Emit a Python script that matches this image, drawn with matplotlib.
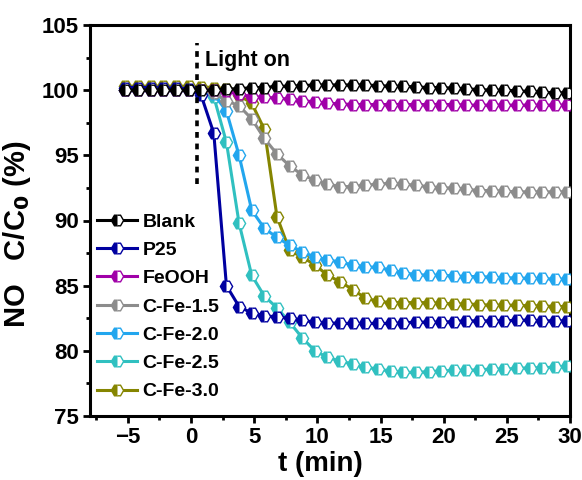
import numpy as np
import matplotlib
matplotlib.use("Agg")
import matplotlib.pyplot as plt
from matplotlib.ticker import MultipleLocator

plt.rcParams['font.family'] = ['Liberation Sans', 'DejaVu Sans']
plt.rcParams['font.weight'] = 'bold'

# time axis (min)
t = -5.2 + np.arange(36)

labels = ["Blank", "P25", "FeOOH", "C-Fe-1.5", "C-Fe-2.0", "C-Fe-2.5", "C-Fe-3.0"]
colors = ["#000000", "#0000A0", "#A000A8", "#8C8C8C", "#22A6EE", "#30C0C0", "#858500"]

blank = [100.0, 100.0, 100.0, 100.0, 100.0, 100.0, 100.0,
         100.0, 100.1, 100.1, 100.2, 100.2, 100.3, 100.3, 100.35, 100.4,
         100.4, 100.4, 100.4, 100.4, 100.35, 100.3, 100.3, 100.25, 100.2, 100.2,
         100.15, 100.1, 100.05, 100.0, 100.0, 99.95, 99.9, 99.85, 99.8, 99.8]
p25 = [100.2, 100.2, 100.2, 100.15, 100.15, 100.1, 99.6,
       96.7, 85.0, 83.4, 82.9, 82.7, 82.6, 82.5, 82.35, 82.2,
       82.15, 82.1, 82.1, 82.1, 82.1, 82.1, 82.15, 82.2, 82.2, 82.2,
       82.25, 82.3, 82.3, 82.3, 82.3, 82.35, 82.35, 82.3, 82.3, 82.3]
feooh = [100.0, 100.0, 100.0, 100.0, 100.0, 100.0, 100.0,
         100.0, 99.9, 99.7, 99.5, 99.45, 99.4, 99.3, 99.2, 99.1,
         99.0, 98.95, 98.9, 98.9, 98.9, 98.9, 98.9, 98.9, 98.9, 98.9,
         98.9, 98.85, 98.85, 98.85, 98.85, 98.85, 98.85, 98.85, 98.85, 98.85]
cfe15 = [100.0, 100.0, 100.0, 100.0, 100.0, 100.0, 100.0,
         99.8, 99.2, 98.8, 97.8, 96.3, 95.1, 94.2, 93.5, 93.1,
         92.8, 92.6, 92.6, 92.7, 92.8, 92.85, 92.8, 92.7, 92.6, 92.5,
         92.5, 92.4, 92.3, 92.3, 92.25, 92.2, 92.2, 92.2, 92.2, 92.2]
cfe20 = [100.0, 100.0, 100.0, 100.0, 100.0, 100.0, 100.0,
         99.7, 98.4, 95.0, 90.8, 89.4, 88.7, 88.1, 87.6, 87.2,
         87.0, 86.8, 86.6, 86.45, 86.4, 86.2, 86.0, 85.85, 85.8, 85.8,
         85.75, 85.7, 85.7, 85.65, 85.6, 85.6, 85.55, 85.55, 85.5, 85.5]
cfe25 = [100.0, 100.0, 100.0, 100.0, 100.0, 100.0, 100.0,
         99.5, 96.0, 89.8, 85.8, 84.2, 83.3, 82.2, 81.0, 80.0,
         79.5, 79.2, 79.0, 78.75, 78.6, 78.45, 78.35, 78.35, 78.4, 78.45,
         78.5, 78.5, 78.55, 78.6, 78.6, 78.65, 78.7, 78.7, 78.75, 78.8]
cfe30 = [100.3, 100.3, 100.3, 100.3, 100.3, 100.3, 100.25,
         100.2, 100.1, 99.6, 99.0, 97.0, 90.3, 87.7, 87.2, 86.6,
         85.8, 85.3, 84.7, 84.05, 83.8, 83.7, 83.7, 83.7, 83.7, 83.65,
         83.6, 83.6, 83.55, 83.5, 83.5, 83.5, 83.45, 83.45, 83.4, 83.4]
series = [blank, p25, feooh, cfe15, cfe20, cfe25, cfe30]

light_on_t = 0.5

fig = plt.figure(figsize=(5.82, 4.80), dpi=100)
ax = fig.add_axes([90/582, 1-416/480, 480/582, 391/480])

n = len(series)
for k, (y, lab, c) in enumerate(zip(series, labels, colors)):
    ax.plot(t, y, '-', color=c, lw=2.2, marker='H', ms=8.8,
            fillstyle='left', markerfacecolor=c, markerfacecoloralt='white',
            markeredgecolor=c, markeredgewidth=1.0, label=lab, zorder=10 + n - k,
            clip_on=True)

ax.plot([light_on_t, light_on_t], [92.8, 103.6], color='black', lw=2.6,
        linestyle=(0, (1.6, 1.6)), zorder=20)
ax.text(light_on_t + 0.6, 102.3, "Light on", fontsize=15.5, fontweight='bold',
        ha='left', va='center')

ax.set_xlim(-8, 30)
ax.set_ylim(75, 105)
ax.xaxis.set_major_locator(MultipleLocator(5))
ax.xaxis.set_minor_locator(MultipleLocator(2.5))
ax.yaxis.set_major_locator(MultipleLocator(5))
ax.yaxis.set_minor_locator(MultipleLocator(2.5))
ax.set_xticks([-5, 0, 5, 10, 15, 20, 25, 30])
ax.tick_params(which='major', direction='out', length=5, width=2, labelsize=16, pad=3)
ax.tick_params(which='minor', direction='out', length=3, width=2)
for sp in ax.spines.values():
    sp.set_linewidth(2.2)

ax.set_xlabel("t (min)", fontsize=20, fontweight='bold')
ax.xaxis.set_label_coords(0.479, -0.09)
ax.set_ylabel("NO   C/C$_\\mathbf{0}$ (%)", fontsize=21, fontweight='bold')
ax.yaxis.set_label_coords(-0.118, 0.465)

leg = ax.legend(loc='upper left', bbox_to_anchor=(97/582, 1-213/480),
                bbox_transform=fig.transFigure, frameon=False, fontsize=14,
                handlelength=2.05, handletextpad=0.3, labelspacing=0.55,
                borderpad=0, borderaxespad=0)
for txt in leg.get_texts():
    txt.set_fontweight('bold')

fig.savefig("out.png", dpi=100)
